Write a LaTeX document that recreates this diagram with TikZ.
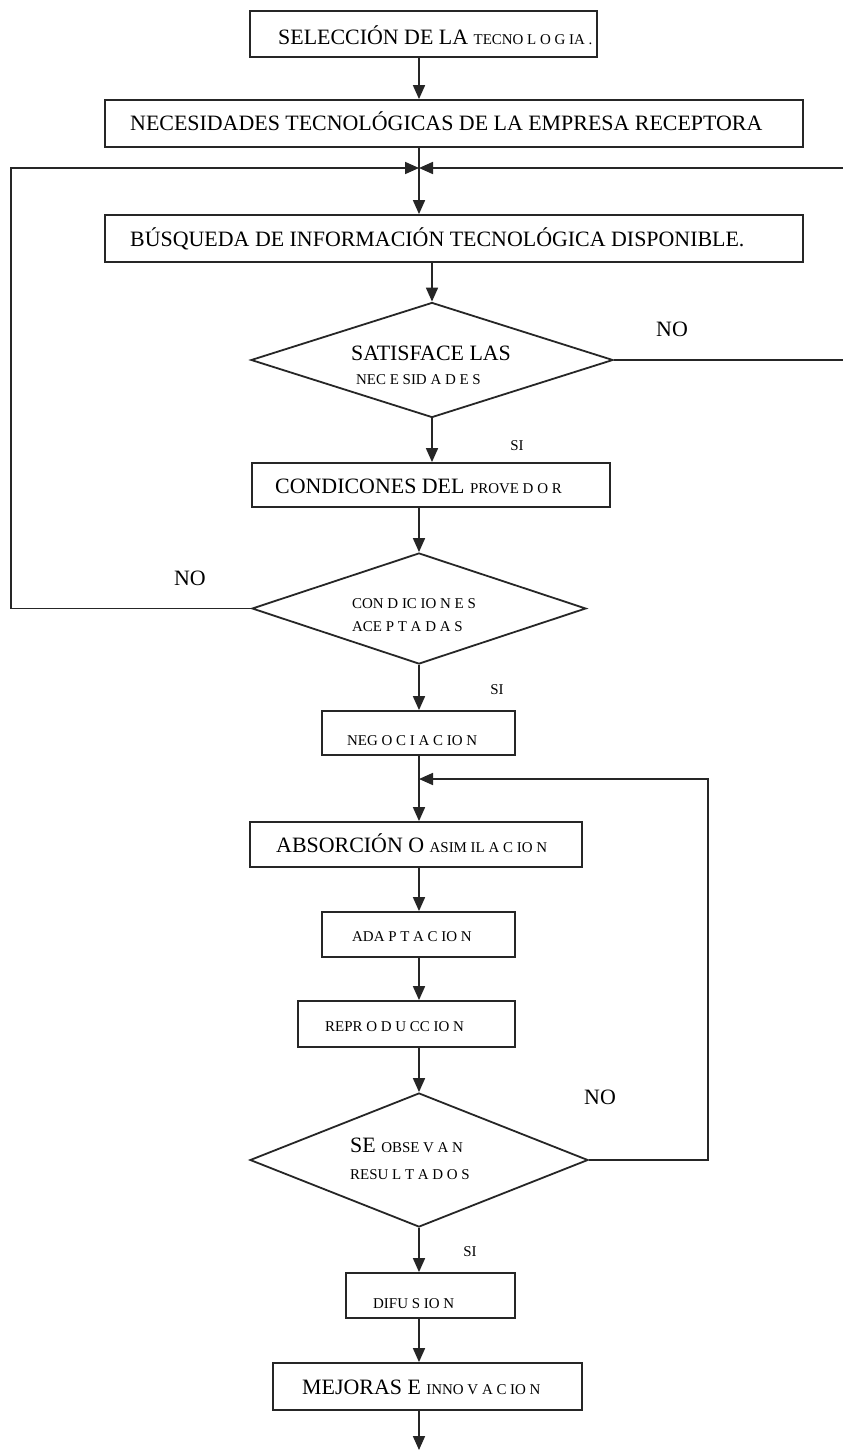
\documentclass[tikz,border=0pt]{standalone}
\usepackage{fontspec}
\setmainfont{Liberation Serif}
\usetikzlibrary{shapes.geometric,arrows.meta}
\newcommand\bigf{\fontsize{22}{25}\selectfont}
\newcommand\smf{\fontsize{15}{17}\selectfont}
\begin{document}
\begin{tikzpicture}[x=1bp,y=-1bp,
 box/.style={draw=black!85, line width=1.8bp, inner sep=0pt},
 dia/.style={draw=black!85, line width=1.8bp, diamond, inner sep=0pt},
 arr/.style={draw=black!85, line width=1.7bp, -{Triangle[length=14bp,width=12bp]}},
 txt/.style={anchor=base west, inner sep=0pt, font=\bigf},
 stxt/.style={anchor=base west, inner sep=0pt, font=\smf},
 lab/.style={inner sep=0pt, font=\bigf},
 slab/.style={inner sep=0pt, font=\smf}]
\useasboundingbox (0,0) rectangle (842,1450);
\fill[white] (0,0) rectangle (842,1450);

% boxes and decisions
\node[box, minimum width=347bp, minimum height=46bp] (b1) at (423.5,34) {};
\node[box, minimum width=698bp, minimum height=47bp] (b2) at (454,123.5) {};
\node[box, minimum width=698bp, minimum height=47bp] (b3) at (454,238.5) {};
\node[dia, minimum width=362bp, minimum height=115bp] (d1) at (432,360) {};
\node[box, minimum width=358bp, minimum height=44bp] (b4) at (431,485) {};
\node[dia, minimum width=334bp, minimum height=111bp] (d2) at (419,608.5) {};
\node[box, minimum width=193bp, minimum height=44bp] (b5) at (418.5,733) {};
\node[box, minimum width=332bp, minimum height=45bp] (b6) at (416,844.5) {};
\node[box, minimum width=193bp, minimum height=45bp] (b7) at (418.5,934.5) {};
\node[box, minimum width=217bp, minimum height=46bp] (b8) at (406.5,1024) {};
\node[dia, minimum width=338bp, minimum height=134bp] (d3) at (419,1160) {};
\node[box, minimum width=169bp, minimum height=45bp] (b9) at (430.5,1295.5) {};
\node[box, minimum width=309bp, minimum height=47bp] (b10) at (427.5,1386.5) {};

% texts
\node[txt] (t1) at (278,45) {SELECCIÓN DE LA {\smf TECNO L O G IA .}};
\node[txt] (t2) at (130,131) {NECESIDADES TECNOLÓGICAS DE LA EMPRESA RECEPTORA};
\node[txt] (t3) at (130,246) {BÚSQUEDA DE INFORMACIÓN TECNOLÓGICA DISPONIBLE.};
\node[txt] (td1a) at (351,360) {SATISFACE LAS};
\node[stxt] (td1b) at (356,384) {NEC E SID A D E S};
\node[txt] (t4) at (275,493) {CONDICONES DEL {\smf PROVE D O R}};
\node[stxt] (td2a) at (352,608) {CON D IC IO N E S};
\node[stxt] (td2b) at (352,631) {ACE P T A D A S};
\node[stxt] (t5) at (347,745) {NEG O C I A C IO N};
\node[txt] (t6) at (276,852) {ABSORCIÓN O {\smf ASIM IL A C IO N}};
\node[stxt] (t7) at (352,941) {ADA P T A C IO N};
\node[stxt] (t8) at (325,1031) {REPR O D U CC IO N};
\node[txt] (td3a) at (350,1152) {SE {\smf OBSE V A N}};
\node[stxt] (td3b) at (350,1179) {RESU L T A D O S};
\node[stxt] (t9) at (373,1308) {DIFU S IO N};
\node[txt] (t10) at (302,1394) {MEJORAS E {\smf INNO V A C IO N}};

% branch labels
\node[lab] (no1) at (672,329) {NO};
\node[slab] (si1) at (517,446) {SI};
\node[lab] (no2) at (190,578) {NO};
\node[slab] (si2) at (497,690) {SI};
\node[lab] (no3) at (600,1097) {NO};
\node[slab] (si3) at (470,1252) {SI};

% helper coordinates
\coordinate (cl) at (419,0);
\coordinate (J) at (419,168);
\coordinate (JL) at (11,168);
\coordinate (JR) at (845,168);
\coordinate (FR) at (708,779);
\coordinate (F) at (419,779);
\coordinate (fin) at (419,1450);

% main flow
\draw[arr] (b1.south -| cl) -- (b2.north -| cl);
\draw[arr] (b2.south -| cl) -- (b3.north -| cl);
\draw[arr] (b3.south -| d1.north) -- (d1.north);
\draw[arr] (d1.south) -- (b4.north -| d1.south);
\draw[arr] (b4.south -| cl) -- (d2.north);
\draw[arr] (d2.south) -- (b5.north -| cl);
\draw[arr] (b5.south -| cl) -- (b6.north -| cl);
\draw[arr] (b6.south -| cl) -- (b7.north -| cl);
\draw[arr] (b7.south -| cl) -- (b8.north -| cl);
\draw[arr] (b8.south -| cl) -- (d3.north);
\draw[arr] (d3.south) -- (b9.north -| cl);
\draw[arr] (b9.south -| cl) -- (b10.north -| cl);
\draw[arr] (b10.south -| cl) -- (fin);

% feedback loops
\draw[arr] (d2.west) -| (JL) -- (J);
\draw[arr] (d1.east) -| (JR) -- (J);
\draw[arr] (d3.east) -| (FR) -- (F);
\end{tikzpicture}
\end{document}
